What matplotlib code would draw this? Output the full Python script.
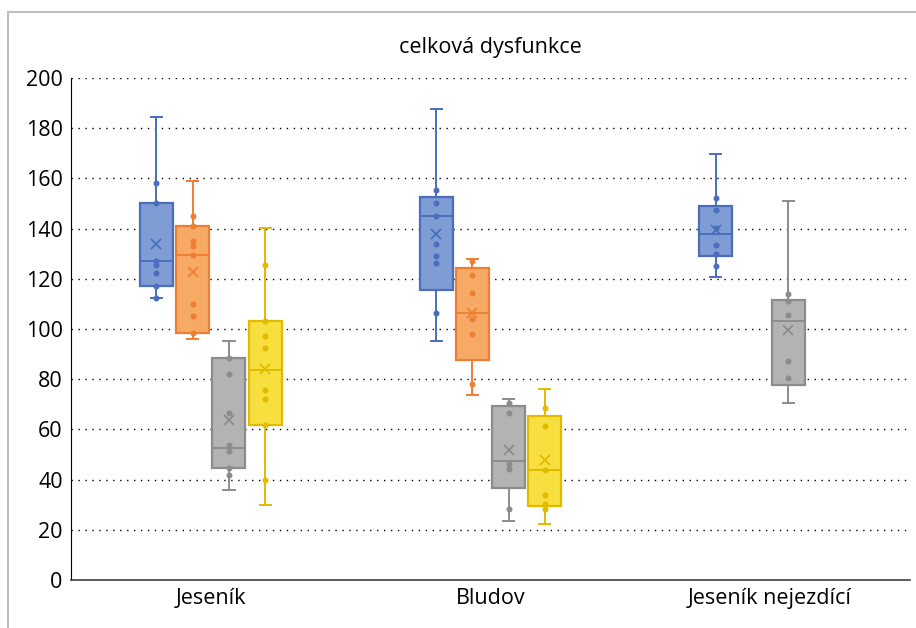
import numpy as np
import matplotlib
matplotlib.use('Agg')
import matplotlib.pyplot as plt
from matplotlib.patches import Rectangle

plt.rcParams['font.family'] = ['Open Sans', 'DejaVu Sans']

groups = ['Jeseník', 'Bludov', 'Jeseník nejezdící']

# box stats per group: (whisker low, q1, median, q3, whisker high, mean); None = no box
blue_stats = [(112.4, 117.2, 127.1, 150.1, 184.3, 134.0),
              (95.3, 115.6, 144.9, 152.5, 187.7, 137.8),
              (120.6, 128.9, 137.9, 149.2, 169.6, 139.5)]
orange_stats = [(96.0, 98.5, 129.6, 141.1, 159.1, 122.7),
                (73.7, 87.8, 106.2, 124.5, 127.9, 106.2),
                None]
gray_stats = [(36.0, 44.6, 52.7, 88.4, 95.3, 63.6),
              (23.7, 36.5, 47.5, 69.3, 72.0, 51.8),
              (70.6, 77.5, 103.0, 111.5, 151.0, 99.6)]
yellow_stats = [(30.0, 61.6, 83.6, 103.2, 140.3, 84.0),
                (22.2, 29.3, 43.8, 65.3, 76.0, 47.8),
                None]

# inner points
blue_pts = [[158, 150, 127, 125.3, 122.5, 117.3, 112.4],
            [155.4, 150.1, 144.9, 133.9, 128.9, 126.1, 106.2],
            [152, 147.6, 140.3, 133.5, 130, 125]]
orange_pts = [[145.1, 141, 135, 133.2, 129.6, 110.1, 105.3, 98.5],
              [127.1, 121.6, 114.2, 104.1, 98.2, 78.1],
              []]
gray_pts = [[88.4, 82.1, 66.4, 53.7, 51.2, 44.6, 41.9],
            [70.7, 66.6, 46.3, 44.1, 28.1],
            [113.9, 111.1, 105.5, 87.4, 80.6]]
yellow_pts = [[125.3, 103.2, 97.3, 92.5, 75.6, 72.1, 61.6, 39.8],
              [68.7, 61.4, 43.8, 34, 30.4, 28.3],
              []]

yticks = [0, 20, 40, 60, 80, 100, 120, 140, 160, 180, 200]

series = [(blue_stats, blue_pts, '#7F9CD4', '#4A6EBD'),
          (orange_stats, orange_pts, '#F6AA66', '#EE7E32'),
          (gray_stats, gray_pts, '#B3B3B3', '#8C8C8C'),
          (yellow_stats, yellow_pts, '#F8DF40', '#E2BA00')]

fig = plt.figure(figsize=(9.16, 6.28), dpi=100)
ax = fig.add_axes([71/916, 1-580/628, (910-71)/916, (580-78)/628])

# light frame around chart
fig.patches.append(Rectangle((8/916, -0.1), 1.2, 1-12/628+0.1, transform=fig.transFigure,
                             fill=False, edgecolor='#BEBEBE', linewidth=1.5))

step = 0.1296
width = 0.118
for i, (stats, pts, fc, ec) in enumerate(series):
    off = (i - 1.5) * step
    for g, s in enumerate(stats):
        if s is None:
            continue
        pos = g + off
        d = dict(whislo=s[0], q1=s[1], med=s[2], q3=s[3], whishi=s[4], mean=s[5], fliers=[])
        ax.bxp([d], positions=[pos], widths=width, capwidths=0.04, showmeans=True,
               showfliers=False, patch_artist=True,
               boxprops=dict(facecolor=fc, edgecolor=ec, linewidth=1.6),
               medianprops=dict(color=ec, linewidth=1.4),
               whiskerprops=dict(color=ec, linewidth=1.4),
               capprops=dict(color=ec, linewidth=1.4),
               meanprops=dict(marker='x', markeredgecolor=ec, markersize=7.5, markeredgewidth=1.3))
        ax.plot([pos] * len(pts[g]), pts[g], 'o', color=ec, markersize=3.3, zorder=5)

ax.set_xlim(-0.5, 2.5)
ax.set_ylim(0, 200)
ax.set_yticks(yticks)
ax.set_xticks(range(len(groups)))
ax.set_xticklabels(groups)
ax.tick_params(axis='both', length=0, labelsize=15.5, colors='black', pad=6)
for y in yticks[1:]:
    ax.axhline(y, color='black', linestyle=(0, (1, 4)), linewidth=1.0, zorder=0)
ax.spines['top'].set_visible(False)
ax.spines['right'].set_visible(False)
ax.spines['left'].set_color('black')
ax.spines['bottom'].set_color('#404040')
ax.spines['bottom'].set_linewidth(1.2)

fig.text(490/916, 1-47/628, 'celková dysfunkce', ha='center', va='center', fontsize=15.5)

plt.savefig('out.png', dpi=100)
